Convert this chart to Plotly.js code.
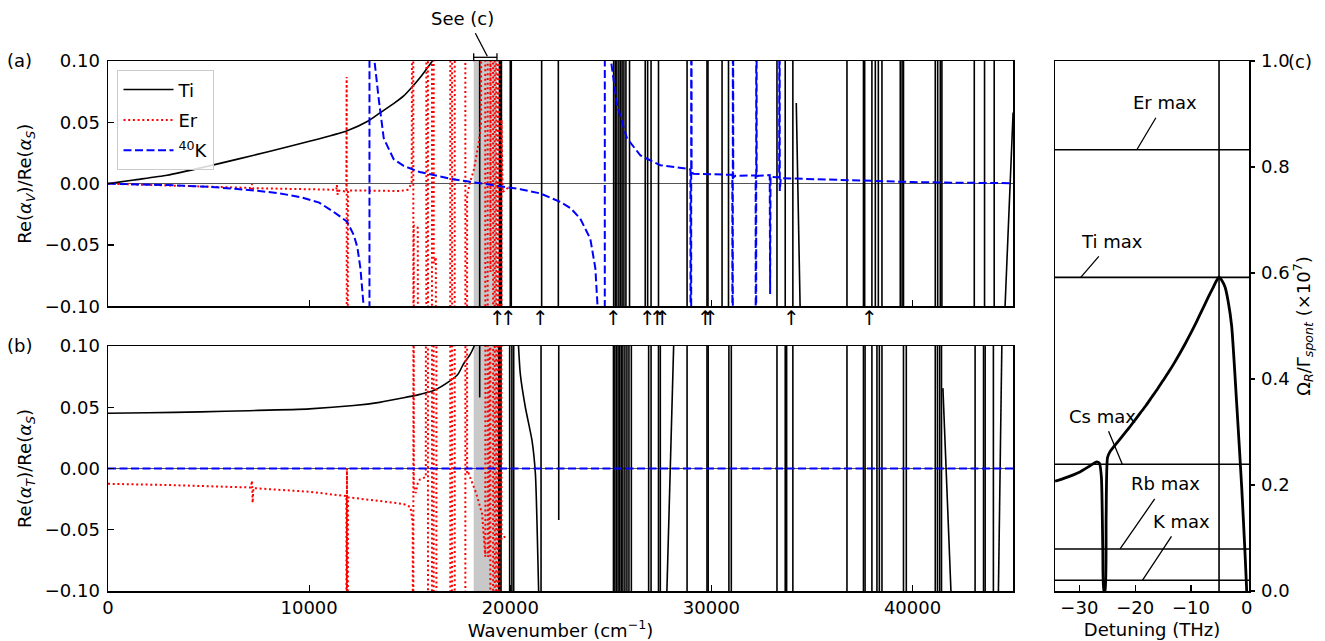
<!DOCTYPE html>
<html><head><meta charset="utf-8">
<script src="https://cdn.plot.ly/plotly-3.0.1.min.js"></script>
<style>body{margin:0;background:#fff}#chart{width:1325px;height:641px}</style>
</head><body><div id="chart"></div>
<script>
// ---------------- DATA ----------------
// Panel (a): vector / scalar polarizability ratio
const tiA_wn  = [0,1285,2940,5095,7910,10015,11890,12960,13540,14200,14700,15040,15540,16030,16300];
const tiA_val = [0,0.003,0.0068,0.0147,0.0258,0.0345,0.0432,0.0513,0.0579,0.0652,0.0715,0.0774,0.087,0.0978,0.104];
const tiA_res = [18480,19460,19510,19560,20000,20050,21560,22390,25140,25220,25300,25400,25480,25560,25650,25750,25930,26710,26830,27000,27370,28790,29780,29830,30530,30850,33260,33670,34050,36740,37560,37620,37980,38150,38300,38480,39390,39480,39550,41130,41250,41380,41460,43070,43580,44060];
const tiA_segWn  = [34220,34410, 44600,45000];
const tiA_segVal = [0.0657,-0.1, -0.1,0.058];

const erA_wn  = [0,2000,4000,7100,7160,7190,7230,9000,11350,11380,11410,11450,11850,11865,11880,11930,12500,13500,14500,14900,15100,15170,15190,15205,15400,15440,15820,15835,15900,15915,16100,16115,16185,16195,16300,16320,17010,17025,17100,17115,17230,17245,17760,17775,17840,17855,18000,18200,18450,18550,18570,18750,18765,18870,18885,19000,19015,19030,19140,19155,19220,19235,19300,19315,19370,19385,19450,19465,19550,19565,19620,19910];
const erA_val = [0,-0.001,-0.002,-0.0035,-0.0005,-0.006,-0.0037,-0.0042,-0.005,-0.001,-0.009,-0.0055,-0.0065,0.087,-0.6,-0.0055,-0.0055,-0.006,-0.006,-0.005,0.0,0.6,-0.6,-0.034,-0.036,-0.6,-0.6,0.6,0.6,-0.6,-0.6,0.6,0.6,-0.065,-0.06,-0.6,-0.6,0.6,0.6,-0.6,-0.6,0.6,0.6,-0.6,-0.6,-0.01,0.001,0.012,0.035,0.05,0.6,0.6,-0.6,-0.6,0.6,0.6,-0.072,0.6,0.6,-0.6,-0.6,0.6,0.6,-0.6,-0.6,0.6,0.6,-0.6,-0.6,0.052,-0.007,-0.003];

const kA_wn  = [0,1000,3000,5000,7250,8500,9570,10500,11220,11890,12220,12400,12550,12710,12900,12990,13010,13100,13250,13460,13710,14200,14700,15500,16190,17000,17850,19510,20500,21500,22490,23000,23480,23980,24230,24340,24500,24690,24710,24900,25010,25310,25800,26470,27460,28790,28960,28990,29000,29015,29100,30000,31040,31060,31070,31085,31200,32200,32220,32235,32250,32350,32900,32920,32940,33000,33370,33385,33400,33450,34500,36000,38000,40000,42000,45000];
const kA_val = [0,-0.0003,-0.0012,-0.0025,-0.0055,-0.0078,-0.011,-0.0155,-0.023,-0.031,-0.042,-0.052,-0.069,-0.1,-0.4,-5,5,0.4,0.1,0.069,0.037,0.020,0.0145,0.0095,0.0068,0.004,0.0019,-0.002,-0.0045,-0.008,-0.015,-0.02,-0.0285,-0.045,-0.069,-0.1,-0.4,-5,5,0.4,0.1,0.064,0.037,0.023,0.015,0.0122,0.0115,-1,1,0.01,0.008,0.0076,0.0072,-1,1,0.005,0.0065,0.0066,-1,1,0.006,0.0065,0.007,-0.09,0.006,0.0055,0.005,0.3,-0.006,0.0045,0.004,0.003,0.002,0.0013,0.0008,0.0004];

// Panel (b): tensor / scalar polarizability ratio
const tiB_wn  = [0,2000,4600,7000,10015,12220,13500,14700,15500,16190,17020,17400,17680,18000,18180,18300];
const tiB_val = [0.0451,0.0455,0.0462,0.0472,0.0487,0.0514,0.054,0.0577,0.0605,0.0637,0.0718,0.077,0.0855,0.093,0.099,0.105];
const tiB_wn2  = [20380,20500,20750,21080,21250,21330,21410,21440];
const tiB_val2 = [0.11,0.077,0.050,0.0229,-0.0044,-0.045,-0.1,-0.12];
const tiB_res = [19420,19480,19540,19970,20080,20170,21530,25130,25200,25280,25360,25440,25520,25600,25700,25800,25900,26020,26880,27000,27370,27460,28790,29780,29840,30870,30990,33260,33670,33740,34050,36740,37560,37640,37980,38230,38350,38480,39550,39690,41130,41240,41350,41440,43110,43530,43610,44020];
const tiB_segWn  = [18480,18480, 22410,22410, 27770,28140, 41510,41910, 44270,44440];
const tiB_segVal = [0.2,0.058, 0.2,-0.042, -0.11,0.11, 0.0656,-0.1, -0.1,0.1];

const erB_wn  = [0,3000,7100,7160,7190,7230,10000,11850,11865,11880,11895,11930,12500,14000,14700,15040,15150,15175,15190,15205,15300,15400,15500,15800,15825,15900,15915,16100,16115,16185,16200,16320,16335,17010,17025,17100,17115,17230,17245,17760,17775,17840,17855,17930,18300,18600,18760,18775,18870,18885,18950,18965,19000,19015,19140,19155,19220,19235,19300,19315,19370,19385,19450,19465,19550,19565,19700,19840];
const erB_val = [-0.0125,-0.0135,-0.0155,-0.010,-0.028,-0.016,-0.019,-0.0225,-0.6,0.0,-0.6,-0.0235,-0.0245,-0.0275,-0.029,-0.0315,-0.045,-0.6,0.6,-0.014,-0.02,-0.012,-0.009,-0.007,0.6,0.6,-0.6,-0.6,0.6,0.6,-0.6,-0.6,0.6,0.6,-0.6,-0.6,0.6,0.6,-0.6,-0.6,0.6,0.6,-0.005,-0.004,-0.02,-0.037,-0.072,0.6,0.6,-0.072,-0.07,0.6,0.6,-0.6,-0.6,0.6,0.6,-0.6,-0.6,0.6,0.6,-0.6,-0.6,0.6,0.6,-0.058,-0.056,-0.055];

const kB_wn  = [0,13000,45000];
const kB_val = [0,0,0];

// Shaded region = range of panel (c), in nm
const bandNm = [550, 517.1];
// Magic wavelengths marked with arrows (cm^-1)
const arrowWn = [19343,19920,21495,25140,26798,27325,27544,29696,29945,33970,37862];

// Panel (c): Rabi frequency / scattering rate vs detuning (THz)
const cDet = [-34.35,-32.9,-29.9,-28.1,-26.9,-26.4,-26.05,-25.8,-25.6,-25.4,-25.2,-24.95,-24.5,-24.0,-23.0,-22.0,-21.0,-20.0,-19.0,-18.0,-17.0,-16.0,-15.0,-14.0,-13.0,-12.0,-11.0,-10.0,-9.0,-8.0,-7.0,-6.0,-5.5,-4.96,-4.4,-3.9,-3.3,-2.7,-1.8,-0.9,-0.3,0.0];
const cVal = [0.207,0.212,0.2247,0.236,0.2436,0.241,0.215,0.08,0.0,0.0,0.14,0.252,0.263,0.270,0.283,0.296,0.309,0.323,0.337,0.351,0.366,0.381,0.397,0.413,0.430,0.448,0.467,0.487,0.508,0.530,0.552,0.573,0.584,0.592,0.585,0.574,0.545,0.500,0.354,0.196,0.071,0.0];
const maxLabels = ['Er max','Ti max','Cs max','Rb max','K max'];
const maxValues = [0.8326,0.5917,0.2392,0.0793,0.0202];
const markDet = [-4.96];

// Tick labels
const wnTicks = [0,10000,20000,30000,40000];
const wnTickText = ['0','10000','20000','30000','40000'];
const topNm = [10000,1000,700,500,400,300];
const topMinorNm = [9000,8000,7000,6000,5000,4000,3000,2000];
for (let l = 990; l >= 230; l -= 10) topMinorNm.push(l);
const yTicks = [-0.1,-0.05,0,0.05,0.1];
const yTickText = ['\u22120.10','\u22120.05','0.00','0.05','0.10'];
const cDetTicks = [-30,-20,-10,0];
const cDetTickText = ['\u221230','\u221220','\u221210','0'];
const cTopNm = [550,540,530,520];
const cTopMinorNm = [];
for (let l = 551; l >= 517; l -= 1) cTopMinorNm.push(l);
const cYTicks = [0,0.2,0.4,0.6,0.8,1.0];
const cYTickText = ['0.0','0.2','0.4','0.6','0.8','1.0'];

// ---------------- helpers ----------------
const C_NM_THZ = 299792.458, F0 = 579.4;
const nm2wn = l => 1e7 / l;
const nm2det = l => C_NM_THZ / l - F0;
function vlines(xs){const X=[],Y=[];xs.forEach(w=>{X.push(w,w,null);Y.push(-1,1,null);});return {X,Y};}
function segs(xs,ys){const X=[],Y=[];for(let i=0;i<xs.length;i+=2){X.push(xs[i],xs[i+1],null);Y.push(ys[i],ys[i+1],null);}return {X,Y};}
function joinXY(a,b){return {X:a.X.concat(b.X),Y:a.Y.concat(b.Y)};}

const L=107.5,R=1249,T=60.7,B=590.7,PW=R-L,PH=B-T;
const dx = px => (px-L)/PW, dy = py => 1-(py-T)/PH;

const FONT = {family:'DejaVu Sans, sans-serif', size:18, color:'#000'};
const TI = {color:'#000', width:1.6};
const TIS = {color:'#000', width:1.6, shape:'spline', smoothing:0.6};
const ER = {color:'#ff0000', width:2, dash:'2px,2.7px'};
const KK = {color:'#0000ff', width:2, dash:'8px,3.5px'};

const tiAmarks = joinXY(vlines(tiA_res), segs(tiA_segWn, tiA_segVal));
const tiBmarks = joinXY(vlines(tiB_res), segs(tiB_segWn, tiB_segVal));

const traces = [
  {x:tiA_wn,y:tiA_val,xaxis:'x',yaxis:'y',mode:'lines',line:TIS,name:'Ti',legendgroup:'ti',showlegend:true,hoverinfo:'skip'},
  {x:tiAmarks.X,y:tiAmarks.Y,xaxis:'x',yaxis:'y',mode:'lines',line:TI,showlegend:false,hoverinfo:'skip'},
  {x:erA_wn,y:erA_val,xaxis:'x',yaxis:'y',mode:'lines',line:ER,name:'Er',legendgroup:'er',showlegend:true,hoverinfo:'skip'},
  {x:kA_wn,y:kA_val,xaxis:'x',yaxis:'y',mode:'lines',line:KK,name:'<sup>40</sup>K',legendgroup:'k',showlegend:true,hoverinfo:'skip'},

  {x:tiB_wn,y:tiB_val,xaxis:'x2',yaxis:'y2',mode:'lines',line:TIS,showlegend:false,hoverinfo:'skip'},
  {x:tiB_wn2,y:tiB_val2,xaxis:'x2',yaxis:'y2',mode:'lines',line:TIS,showlegend:false,hoverinfo:'skip'},
  {x:tiBmarks.X,y:tiBmarks.Y,xaxis:'x2',yaxis:'y2',mode:'lines',line:TI,showlegend:false,hoverinfo:'skip'},
  {x:erB_wn,y:erB_val,xaxis:'x2',yaxis:'y2',mode:'lines',line:ER,showlegend:false,hoverinfo:'skip'},
  {x:kB_wn,y:kB_val,xaxis:'x2',yaxis:'y2',mode:'lines',line:KK,showlegend:false,hoverinfo:'skip'},

  {x:[markDet[0],markDet[0]],y:[0,1],xaxis:'x5',yaxis:'y3',mode:'lines',line:{color:'#000',width:1.6},showlegend:false,hoverinfo:'skip'}
];
maxValues.forEach(v=>traces.push({x:[-40,5],y:[v,v],xaxis:'x5',yaxis:'y3',mode:'lines',line:{color:'#000',width:1.6},showlegend:false,hoverinfo:'skip'}));
traces.push({x:cDet,y:cVal,xaxis:'x5',yaxis:'y3',mode:'lines',line:{color:'#000',width:2.8,shape:'spline',smoothing:0.6},showlegend:false,hoverinfo:'skip'});

const axBase = {showline:true,linecolor:'#000',linewidth:1.5,mirror:true,ticks:'inside',ticklen:6,tickwidth:1.2,tickcolor:'#000',showgrid:false,zeroline:false,tickfont:FONT,fixedrange:true};
const topBase = {ticks:'inside',ticklen:6,tickwidth:1.2,tickcolor:'#000',showgrid:false,zeroline:false,showline:false,tickfont:FONT,fixedrange:true};

const xAB=[0,dx(1013)], xC=[dx(1055),1];
const layout = {
  width:1325,height:641,
  margin:{l:L,r:1325-R,t:T,b:641-B,pad:0},
  paper_bgcolor:'#fff',plot_bgcolor:'#fff',
  font:FONT,
  showlegend:true,
  legend:{x:dx(117),y:dy(70),xanchor:'left',yanchor:'top',bgcolor:'rgba(255,255,255,0.85)',bordercolor:'#cccccc',borderwidth:1,font:FONT,traceorder:'grouped',tracegroupgap:4,itemwidth:50},
  xaxis:Object.assign({},axBase,{domain:xAB,anchor:'y',range:[0,45000],tickmode:'array',tickvals:wnTicks,showticklabels:false}),
  xaxis2:Object.assign({},axBase,{domain:xAB,anchor:'y2',range:[0,45000],tickmode:'array',tickvals:wnTicks,ticktext:wnTickText,
          title:{text:'Wavenumber (cm<sup>\u22121</sup>)',font:FONT,standoff:6}}),
  xaxis3:Object.assign({},topBase,{overlaying:'x',side:'top',anchor:'y',range:[0,45000],tickmode:'array',tickvals:topNm.map(nm2wn),ticktext:topNm.map(String),
          minor:{tickmode:'array',tickvals:topMinorNm.map(nm2wn),ticks:'inside',ticklen:3.5,tickwidth:1,tickcolor:'#000'},
          title:{text:'Wavelength (nm)',font:FONT,standoff:6}}),
  xaxis4:Object.assign({},topBase,{overlaying:'x2',side:'top',anchor:'y2',range:[0,45000],tickmode:'array',tickvals:topNm.map(nm2wn),showticklabels:false,
          minor:{tickmode:'array',tickvals:topMinorNm.map(nm2wn),ticks:'inside',ticklen:3.5,tickwidth:1,tickcolor:'#000'}}),
  yaxis:Object.assign({},axBase,{domain:[dy(306),1],anchor:'x',range:[-0.1,0.1],tickmode:'array',tickvals:yTicks,ticktext:yTickText,
          zeroline:true,zerolinecolor:'#555',zerolinewidth:1.2,ticklabelstandoff:3,
          title:{text:'Re(<i>\u03b1</i><sub><i>V</i></sub>)/Re(<i>\u03b1</i><sub><i>S</i></sub>)',font:FONT,standoff:8}}),
  yaxis2:Object.assign({},axBase,{domain:[0,dy(345.7)],anchor:'x2',range:[-0.1,0.1],tickmode:'array',tickvals:yTicks,ticktext:yTickText,
          zeroline:true,zerolinecolor:'#555',zerolinewidth:1.2,ticklabelstandoff:3,
          title:{text:'Re(<i>\u03b1</i><sub><i>T</i></sub>)/Re(<i>\u03b1</i><sub><i>S</i></sub>)',font:FONT,standoff:8}}),
  xaxis5:Object.assign({},axBase,{domain:xC,anchor:'y3',range:[-34.35,0.41],tickmode:'array',tickvals:cDetTicks,ticktext:cDetTickText,
          title:{text:'Detuning (THz)',font:FONT,standoff:6}}),
  xaxis6:Object.assign({},topBase,{overlaying:'x5',side:'top',anchor:'y3',range:[-34.35,0.41],tickmode:'array',tickvals:cTopNm.map(nm2det),ticktext:cTopNm.map(String),
          minor:{tickmode:'array',tickvals:cTopMinorNm.map(nm2det),ticks:'inside',ticklen:3.5,tickwidth:1,tickcolor:'#000'},
          title:{text:'Wavelength (nm)',font:FONT,standoff:6}}),
  yaxis3:Object.assign({},axBase,{domain:[0,1],anchor:'x5',side:'right',range:[0,1],tickmode:'array',tickvals:cYTicks,ticktext:cYTickText,ticks:'outside',ticklen:4,ticklabelstandoff:3,
          title:{text:'\u03a9<sub><i>R</i></sub>/\u0393<sub><i>spont</i></sub> (\u00d710<sup>7</sup>)',font:FONT,standoff:8}}),
  shapes:[
    {type:'rect',xref:'x',yref:'y domain',x0:nm2wn(bandNm[0]),x1:nm2wn(bandNm[1]),y0:0,y1:1,fillcolor:'#c8c8c8',line:{width:0},layer:'below'},
    {type:'rect',xref:'x2',yref:'y2 domain',x0:nm2wn(bandNm[0]),x1:nm2wn(bandNm[1]),y0:0,y1:1,fillcolor:'#c8c8c8',line:{width:0},layer:'below'},
    {type:'line',xref:'x',yref:'paper',x0:nm2wn(bandNm[0]),x1:nm2wn(bandNm[1]),y0:dy(57),y1:dy(57),line:{color:'#000',width:1.3}},
    {type:'line',xref:'x',yref:'paper',x0:nm2wn(bandNm[0]),x1:nm2wn(bandNm[0]),y0:dy(53),y1:dy(61),line:{color:'#000',width:1.3}},
    {type:'line',xref:'x',yref:'paper',x0:nm2wn(bandNm[1]),x1:nm2wn(bandNm[1]),y0:dy(53),y1:dy(61),line:{color:'#000',width:1.3}},
    {type:'line',xref:'paper',yref:'paper',x0:dx(475),x1:dx(487),y0:dy(33),y1:dy(56),line:{color:'#000',width:1.3}}
  ],
  annotations:[]
};
const A = layout.annotations;
A.push({xref:'paper',yref:'paper',x:dx(19),y:dy(60),text:'(a)',showarrow:false,font:FONT,xanchor:'center',yanchor:'middle'});
A.push({xref:'paper',yref:'paper',x:dx(19),y:dy(345),text:'(b)',showarrow:false,font:FONT,xanchor:'center',yanchor:'middle'});
A.push({xref:'paper',yref:'paper',x:dx(1300),y:dy(61),text:'(c)',showarrow:false,font:FONT,xanchor:'center',yanchor:'middle'});
A.push({xref:'paper',yref:'paper',x:dx(462),y:dy(18),text:'See (c)',showarrow:false,font:FONT,xanchor:'center',yanchor:'middle'});
arrowWn.forEach(w=>A.push({xref:'x',yref:'paper',x:w,y:dy(318),text:'\u2191',showarrow:false,font:Object.assign({},FONT,{size:20}),xanchor:'center',yanchor:'middle'}));
const tipDet = [-19.7,-29.75,-22.3,-22.7,-18.7];
const tipAx = [28,31,-20,45,39];
const tipAy = [-47,-36,-48,-65,-59];
maxLabels.forEach((t,i)=>A.push({xref:'x5',yref:'y3',x:tipDet[i],y:maxValues[i],text:t,showarrow:true,arrowhead:0,arrowwidth:1.3,arrowcolor:'#000',ax:tipAx[i],ay:tipAy[i],font:FONT,borderpad:4}));

Plotly.newPlot('chart',traces,layout,{staticPlot:true});
</script></body></html>
